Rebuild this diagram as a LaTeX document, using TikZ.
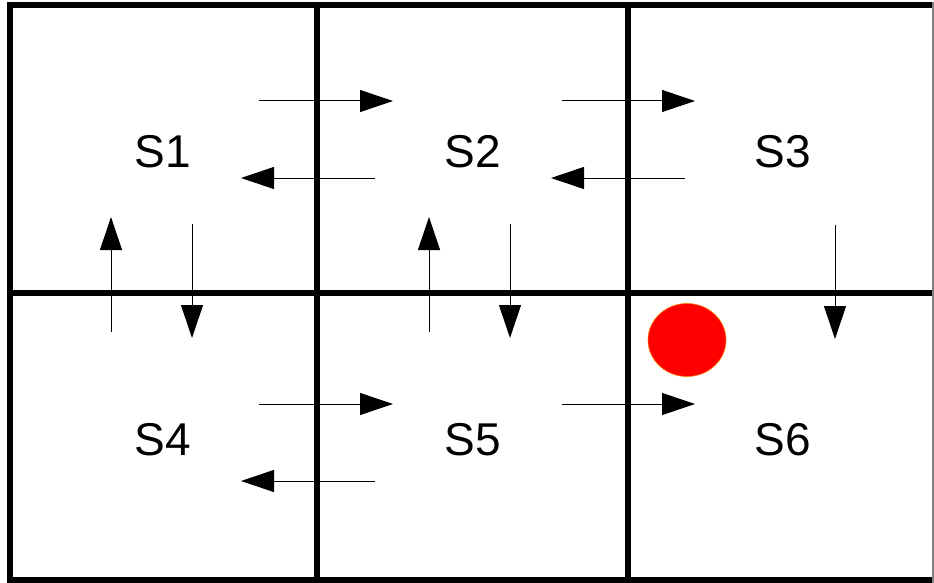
\documentclass[tikz,border=0pt]{standalone}
\usepackage{fontspec}
\setmainfont{Liberation Sans}
\usetikzlibrary{arrows.meta}
\definecolor{ballR}{RGB}{255,0,0}
\definecolor{ballO}{RGB}{255,120,0}

\begin{document}
\begin{tikzpicture}[x=1pt,y=-1pt,>={Triangle[length=33pt,width=22pt]},
  wall/.style={line width=6pt},
  move/.style={->,line width=1pt},
  lbl/.style={font=\fontsize{46}{50}\selectfont}]
\useasboundingbox (0,0) rectangle (934,583);
% grid
\draw[wall] (934,5.5)--(9.5,5.5)--(9.5,580)--(934,580);
\draw[wall] (317,5.5)--(317,580) (628,5.5)--(628,580);
\draw[wall] (9.5,293)--(934,293);
\draw[gray,line width=1.5pt] (933,2.5)--(933,583);
% states
\node[lbl] (s1) at (163,152) {S1};
\node[lbl] (s2) at (473,152) {S2};
\node[lbl] (s3) at (783,152) {S3};
\node[lbl] (s4) at (163,440) {S4};
\node[lbl] (s5) at (473,440) {S5};
\node[lbl] (s6) at (783,440) {S6};
% horizontal moves
\draw[move] (259,101)--(393,101);
\draw[move] (375,178)--(241,178);
\draw[move] (562,101)--(695,101);
\draw[move] (685,178)--(551,178);
\draw[move] (259,404)--(393,404);
\draw[move] (375,481)--(241,481);
\draw[move] (562,404)--(695,404);
% vertical moves
\draw[move] (111,332)--(111,217);
\draw[move] (192,224)--(192,338);
\draw[move] (429,332)--(429,217);
\draw[move] (510,224)--(510,338);
\draw[move] (835,225)--(835,339);
% goal
\fill[ballR,draw=ballO,line width=0.6pt] (687,340) ellipse [x radius=39,y radius=36.5];
\end{tikzpicture}
\end{document}
